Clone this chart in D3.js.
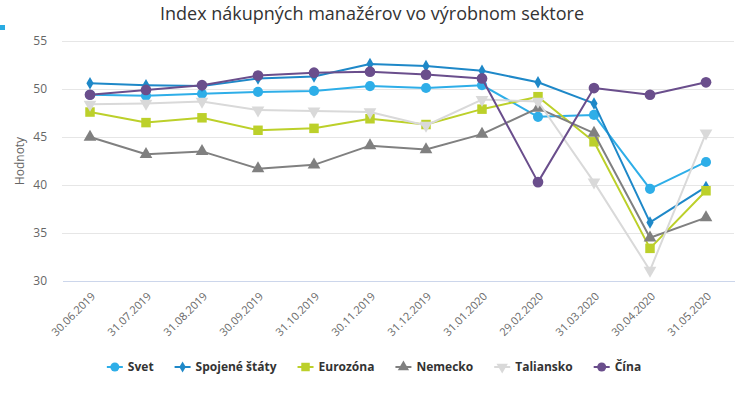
<!DOCTYPE html>
<html><head><meta charset="utf-8">
<script src="https://cdn.jsdelivr.net/npm/d3@7"></script>
<style>
html,body{margin:0;padding:0;background:#fff;}
svg{display:block;font-family:"Open Sans","DejaVu Sans",sans-serif;}
</style></head>
<body><svg id="c" width="744" height="400"></svg>
<script>
const categories = ["30.06.2019","31.07.2019","31.08.2019","30.09.2019","31.10.2019","30.11.2019","31.12.2019","31.01.2020","29.02.2020","31.03.2020","30.04.2020","31.05.2020"];
const yTicks = [30,35,40,45,50,55];
const svet = [49.4,49.3,49.5,49.7,49.8,50.3,50.1,50.4,47.1,47.3,39.6,42.4];
const spojeneStaty = [50.6,50.4,50.3,51.1,51.3,52.6,52.4,51.9,50.7,48.5,36.1,39.8];
const eurozona = [47.6,46.5,47.0,45.7,45.9,46.9,46.3,47.9,49.2,44.5,33.4,39.4];
const nemecko = [45.0,43.2,43.5,41.7,42.1,44.1,43.7,45.3,48.0,45.4,34.5,36.6];
const taliansko = [48.4,48.5,48.7,47.8,47.7,47.6,46.2,48.9,48.7,40.3,31.1,45.4];
const cina = [49.4,49.9,50.4,51.4,51.7,51.8,51.5,51.1,40.3,50.1,49.4,50.7];

const series = [
  {name:"Svet", data:svet, color:"#2eaee8", symbol:"circle"},
  {name:"Spojené štáty", data:spojeneStaty, color:"#1e88c8", symbol:"diamond"},
  {name:"Eurozóna", data:eurozona, color:"#bcd02a", symbol:"square"},
  {name:"Nemecko", data:nemecko, color:"#808080", symbol:"triangle"},
  {name:"Taliansko", data:taliansko, color:"#d9d9d9", symbol:"triangle-down"},
  {name:"Čína", data:cina, color:"#6a4e8c", symbol:"circle"}
];

const svg = d3.select("#c");
const plot = {left:62, right:734, top:41, bottom:281};

const x = d3.scaleBand().domain(categories).range([plot.left, plot.right]);
const y = d3.scaleLinear().domain([30,55]).range([plot.bottom, plot.top]);

// small artifact square
svg.append("rect").attr("x",0).attr("y",25).attr("width",5).attr("height",5).attr("fill","#29abe2");

// title
svg.append("text").attr("x",372).attr("y",20).attr("text-anchor","middle")
  .attr("font-size",18).attr("fill","#333").text("Index nákupných manažérov vo výrobnom sektore");

// grid
svg.append("g").selectAll("line").data(yTicks.filter(d=>d!==30)).join("line")
  .attr("x1",plot.left).attr("x2",plot.right)
  .attr("y1",d=>y(d)).attr("y2",d=>y(d))
  .attr("stroke","#e6e6e6").attr("stroke-width",1).attr("shape-rendering","crispEdges");

// y axis labels
const yAxis = d3.axisLeft(y).tickValues(yTicks).tickSize(0).tickPadding(0);
const gy = svg.append("g").attr("transform",`translate(${plot.left-15},0)`).call(yAxis);
gy.select(".domain").remove();
gy.selectAll("text").attr("font-size",12).attr("fill","#666").attr("font-family","'Open Sans','DejaVu Sans',sans-serif").attr("dy","0.32em");

svg.append("text").attr("transform",`translate(24,${(plot.top+plot.bottom)/2}) rotate(-90)`)
  .attr("text-anchor","middle").attr("font-size",12).attr("fill","#666").text("Hodnoty");

// x axis
const xAxis = d3.axisBottom(x).tickSize(0).tickPadding(0);
const gx = svg.append("g").attr("transform",`translate(0,${plot.bottom})`).call(xAxis);
gx.select(".domain").attr("stroke","#ccd6eb").attr("shape-rendering","crispEdges");
gx.selectAll(".tick text")
  .attr("font-size",11).attr("fill","#666").attr("font-family","'Open Sans','DejaVu Sans',sans-serif")
  .attr("text-anchor","end").attr("dy",0).attr("y",0)
  .attr("transform","translate(6,16) rotate(-45)");

// symbols
function symPath(s, size){
  const map = {circle:d3.symbolCircle, diamond:d3.symbolDiamond, square:d3.symbolSquare, triangle:d3.symbolTriangle};
  if (s==="triangle-down") return d3.symbol(d3.symbolTriangle, size)();
  return d3.symbol(map[s], size)();
}
const sizes = {circle:80, diamond:45, square:90, triangle:70, "triangle-down":70};
function symTransform(s, px, py){
  return s==="triangle-down" ? `translate(${px},${py}) rotate(180)` : `translate(${px},${py})`;
}

const line = d3.line().x((d,i)=>x(categories[i])+x.bandwidth()/2).y(d=>y(d));
series.forEach(s=>{
  const g = svg.append("g");
  g.append("path").attr("d",line(s.data)).attr("fill","none").attr("stroke",s.color).attr("stroke-width",2).attr("stroke-linejoin","round");
  g.selectAll("path.m").data(s.data).join("path").attr("class","m")
    .attr("d",symPath(s.symbol, s.name==="Čína"?90:sizes[s.symbol]))
    .attr("transform",(d,i)=>symTransform(s.symbol, x(categories[i])+x.bandwidth()/2, y(d)))
    .attr("fill",s.color);
});

// legend
const lg = svg.append("g");
let cx = 0;
const items = [];
series.forEach(s=>{
  const it = lg.append("g").attr("transform",`translate(${cx},0)`);
  it.append("line").attr("x1",0).attr("x2",16).attr("y1",0).attr("y2",0).attr("stroke",s.color).attr("stroke-width",2);
  it.append("path").attr("d",symPath(s.symbol, sizes[s.symbol]*0.8)).attr("transform",symTransform(s.symbol,8,0)).attr("fill",s.color);
  const t = it.append("text").attr("x",21).attr("y",0).attr("dy","0.35em").attr("font-size",12).attr("font-weight","bold").attr("fill","#333").text(s.name);
  const w = t.node().getComputedTextLength();
  cx += 21 + w + 21;
});
const total = cx - 21;
lg.attr("transform",`translate(${374 - total/2},367)`);
</script></body></html>
